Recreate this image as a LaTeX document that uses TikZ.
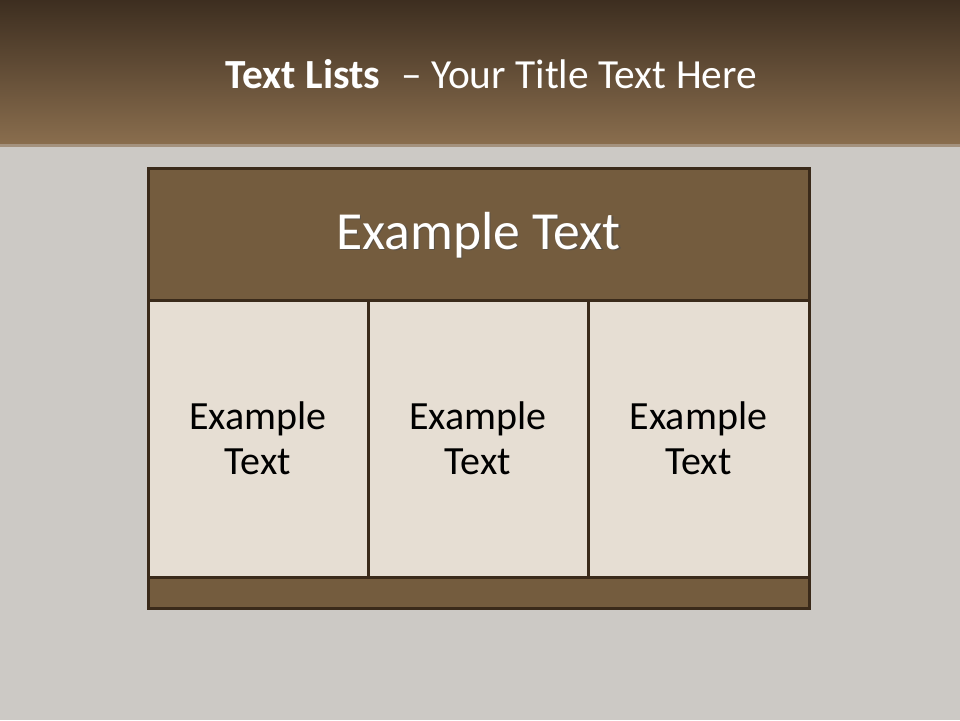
\documentclass[tikz,border=0pt]{standalone}
\usepackage{fontspec}
\setmainfont{Carlito}
\definecolor{bandtop}{HTML}{3D2E20}
\definecolor{bandbot}{HTML}{8A6E4E}
\definecolor{bggrey}{HTML}{CCC9C5}
\definecolor{brownfill}{HTML}{745C3E}
\definecolor{cellfill}{HTML}{E6DED3}
\definecolor{edgebrown}{HTML}{3A2A1A}
\tikzset{
  px/.style={x=0.5pt,y=-0.5pt},
  brownbox/.style={fill=brownfill,draw=edgebrown,line width=1.5pt},
  cellbox/.style={fill=cellfill,draw=edgebrown,line width=1.5pt},
  celltext/.style={font=\fontsize{20}{22.5}\selectfont,text=black,align=center},
}
\begin{document}
\begin{tikzpicture}[px]
\useasboundingbox (0,0) rectangle (960,720);
\fill[bggrey] (0,0) rectangle (960,720);
\shade[top color=bandtop,bottom color=bandbot] (0,0) rectangle (960,145);
\fill[bandbot!60!bggrey] (0,144) rectangle (960,147);
\node[font=\fontsize{20.7}{23}\selectfont,text=white,anchor=base] (title) at (491.5,88) {\textbf{Text Lists}\enspace– Your Title Text Here};
% table
\path[brownbox] (148,168) rectangle (809,300);
\coordinate (hdr) at (478.5,235);
\node[font=\fontsize{26.8}{29}\selectfont,text=black!70,opacity=0.6] at ([shift={(1.5,1.5)}]hdr) {Example Text};
\node[font=\fontsize{26.8}{29}\selectfont,text=white] (header) at (hdr) {Example Text};
\path[cellbox] (148,300) rectangle (368,577);
\path[cellbox] (368,300) rectangle (588,577);
\path[cellbox] (588,300) rectangle (809,577);
\path[brownbox] (148,577) rectangle (809,608);
\node[celltext] (c1) at (258,438) {Example\\Text};
\node[celltext] (c2) at (478,438) {Example\\Text};
\node[celltext] (c3) at (698.5,438) {Example\\Text};
\end{tikzpicture}
\end{document}
